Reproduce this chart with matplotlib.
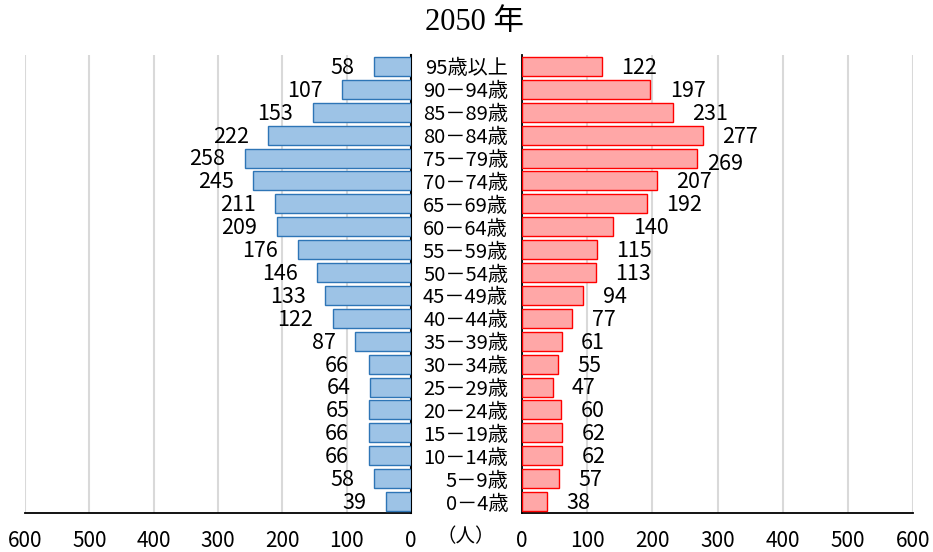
import matplotlib
matplotlib.use("Agg")
import matplotlib.pyplot as plt
import numpy as np

plt.rcParams['font.family'] = ['Liberation Sans Narrow', 'Noto Sans CJK JP', 'DejaVu Sans']

# age groups from youngest to oldest
ages = ['0－4歳', '5－9歳', '10－14歳', '15－19歳', '20－24歳', '25－29歳',
        '30－34歳', '35－39歳', '40－44歳', '45－49歳', '50－54歳', '55－59歳',
        '60－64歳', '65－69歳', '70－74歳', '75－79歳', '80－84歳', '85－89歳',
        '90－94歳', '95歳以上']
male = [39, 58, 66, 66, 65, 64, 66, 87, 122, 133, 146, 176, 209, 211, 245,
        258, 222, 153, 107, 58]
female = [38, 57, 62, 62, 60, 47, 55, 61, 77, 94, 113, 115, 140, 192, 207,
          269, 277, 231, 197, 122]
ticks = [0, 100, 200, 300, 400, 500, 600]

W, H = 933, 552
fig = plt.figure(figsize=(W / 100, H / 100), dpi=100)

bottom, top = 513, 55
axL = fig.add_axes([25 / W, (H - bottom) / H, (411 - 25) / W, (bottom - top) / H])
axR = fig.add_axes([522 / W, (H - bottom) / H, (913 - 522) / W, (bottom - top) / H])

y = np.arange(len(ages))

axL.barh(y, male, height=0.83, color='#9dc3e6', edgecolor='#2e75b6', linewidth=1, zorder=3)
axR.barh(y, female, height=0.83, color='#ffa7a7', edgecolor='#ff0000', linewidth=1, zorder=3)

axL.set_xlim(600, 0)
axR.set_xlim(0, 600)

for ax in (axL, axR):
    ax.set_ylim(-0.5, len(ages) - 0.5)
    ax.set_xticks(ticks)
    ax.set_xticklabels([str(t) for t in ticks], fontsize=15)
    ax.tick_params(axis='x', length=0, pad=12)
    ax.grid(axis='x', color='#d9d9d9', linewidth=1.5, zorder=0)
    ax.spines['top'].set_visible(False)
    ax.spines['bottom'].set_linewidth(1.3)
    ax.set_axisbelow(True)

axL.spines['left'].set_visible(False)
axL.spines['right'].set_linewidth(1.5)
axL.set_yticks([])
axR.spines['right'].set_visible(False)
axR.spines['left'].set_linewidth(1.3)
axR.set_yticks(y)
axR.set_yticklabels(ages, fontsize=14.5)
axR.tick_params(axis='y', length=0, pad=10)

for yi, v in zip(y, male):
    axL.annotate(str(v), (v, yi), xytext=(-14, -1), textcoords='offset points',
                 ha='right', va='center', fontsize=15.5)
for yi, v in zip(y, female):
    dx, dy = (7, -4) if v == 269 else (14, -1)  # this label sits closer in the source
    axR.annotate(str(v), (v, yi), xytext=(dx, dy), textcoords='offset points',
                 ha='left', va='center', fontsize=15.5)

fig.text(466 / W, 1 - 537 / H, '（人）', ha='center', va='center', fontsize=14,
         family=['Noto Sans CJK JP'])
fig.text(474 / W, 1 - 22 / H, '2050 年', ha='center', va='center', fontsize=22,
         family=['Liberation Serif', 'Noto Sans CJK JP'])

fig.savefig('out.png', dpi=100)
